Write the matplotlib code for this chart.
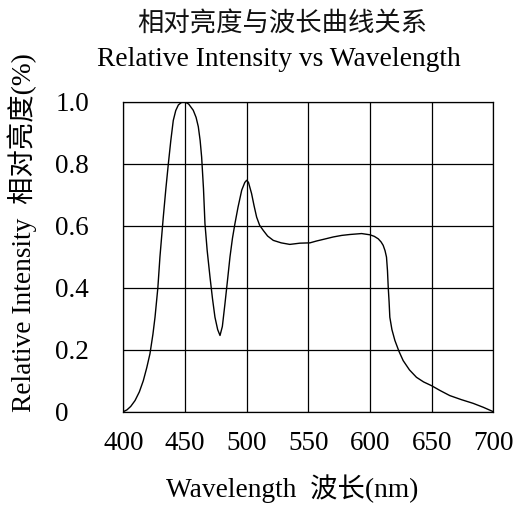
import numpy as np
import matplotlib
matplotlib.use("Agg")
import matplotlib.pyplot as plt

# spectrum (nm, relative intensity)
wavelength = [400, 403, 406, 409.5, 413, 416.2, 419, 421.6, 424, 425.7, 428, 429.7,
              432.4, 434.5, 436.5, 438.5, 440.5, 442.5, 444.6, 447, 450, 453, 456.7,
              459, 460.8, 462.3, 463.5, 465, 466.2, 468, 470.3, 472.3, 474.3, 476.5,
              478.4, 480.3, 482.4, 484.5, 486.5, 488.5, 490.5, 493, 496, 498.5, 500,
              501.5, 504, 506, 508.1, 510.5, 513.5, 517, 521.6, 528, 535, 543.2,
              551.3, 556.7, 563, 570.2, 577, 583.7, 593.2, 600, 603.5, 606.7, 609,
              610.7, 612.2, 613.4, 614.2, 614.8, 615.5, 616.1, 617.8, 620.2, 623.5,
              626.9, 632, 637.7, 643.5, 649.9, 657, 664.7, 674, 683.6, 692, 700]
intensity = [0.0, 0.006, 0.017, 0.036, 0.064, 0.10, 0.142, 0.187, 0.25, 0.305, 0.40, 0.50,
             0.628, 0.72, 0.80, 0.875, 0.94, 0.972, 0.99, 0.998, 1.0, 0.993, 0.973,
             0.95, 0.92, 0.875, 0.822, 0.72, 0.607, 0.52, 0.434, 0.365, 0.305, 0.265,
             0.246, 0.275, 0.348, 0.425, 0.50, 0.56, 0.607, 0.66, 0.715, 0.74, 0.747,
             0.74, 0.704, 0.665, 0.628, 0.602, 0.585, 0.567, 0.553, 0.545, 0.54, 0.544,
             0.545, 0.551, 0.557, 0.564, 0.569, 0.572, 0.575, 0.571, 0.566, 0.558, 0.548,
             0.537, 0.52, 0.499, 0.455, 0.402, 0.355, 0.305, 0.265, 0.23, 0.195,
             0.165, 0.135, 0.111, 0.096, 0.084, 0.068, 0.052, 0.039, 0.027, 0.014, 0.0]

x_ticks = [400, 450, 500, 550, 600, 650, 700]
y_ticks = [0, 0.2, 0.4, 0.6, 0.8, 1.0]
y_tick_labels = ["0", "0.2", "0.4", "0.6", "0.8", "1.0"]

FONT = ["Liberation Serif", "Noto Sans CJK SC", "DejaVu Sans"]
plt.rcParams["font.family"] = FONT

fig = plt.figure(figsize=(5.16, 5.07), dpi=100)
ax = fig.add_axes([0.239, 0.188, 0.717, 0.611])

ax.plot(wavelength, intensity, color="black", linewidth=1.0)

ax.set_xlim(400, 700)
ax.set_ylim(0, 1.0)
ax.set_xticks(x_ticks)
ax.set_yticks(y_ticks)
ax.set_yticklabels(y_tick_labels)
ax.grid(True, color="black", linewidth=0.9)
ax.set_axisbelow(True)
for s in ax.spines.values():
    s.set_linewidth(0.9)
ax.tick_params(length=0, labelsize=19.5)
ax.tick_params(axis="x", pad=14)
ax.tick_params(axis="y", pad=49)
for lbl in ax.get_yticklabels():
    lbl.set_horizontalalignment("left")

fig.text(0.548, 0.953, "相对亮度与波长曲线关系", ha="center", va="center", fontsize=19,
         fontweight="light", color="#111111")
fig.text(0.541, 0.882, "Relative Intensity vs Wavelength", ha="center", va="center",
         fontsize=19.8)
fig.text(0.567, 0.036, "Wavelength  波长(nm)", ha="center", va="center", fontsize=19.7,
         fontweight="light")
fig.text(0.043, 0.542, "Relative Intensity  相对亮度(%)", ha="center", va="center",
         rotation=90, fontsize=19.7, fontweight="light")

fig.savefig("out.png", dpi=100, facecolor="white")
